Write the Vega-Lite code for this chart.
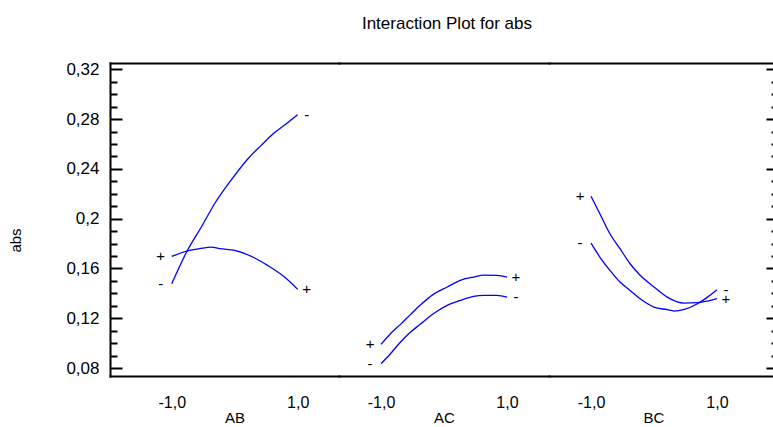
{
  "$schema": "https://vega.github.io/schema/vega-lite/v6.json",
  "padding": {"left": 8, "top": 15, "right": 0, "bottom": 0},
  "title": {"text": "Interaction Plot for abs", "fontSize": 17, "fontWeight": "normal", "font": "Liberation Sans", "color": "#000", "anchor": "middle", "offset": 27, "dx": 55},
  "datasets": {
    "lines": [
      {"group": "AB", "sign": "-", "level": -1, "abs": 0.1477},
      {"group": "AB", "sign": "-", "level": -0.75, "abs": 0.1746},
      {"group": "AB", "sign": "-", "level": -0.53, "abs": 0.1933},
      {"group": "AB", "sign": "-", "level": -0.32, "abs": 0.212},
      {"group": "AB", "sign": "-", "level": -0.06, "abs": 0.2308},
      {"group": "AB", "sign": "-", "level": 0.21, "abs": 0.2482},
      {"group": "AB", "sign": "-", "level": 0.42, "abs": 0.2589},
      {"group": "AB", "sign": "-", "level": 0.61, "abs": 0.2683},
      {"group": "AB", "sign": "-", "level": 0.82, "abs": 0.2763},
      {"group": "AB", "sign": "-", "level": 1, "abs": 0.2835},
      {"group": "AB", "sign": "+", "level": -1, "abs": 0.1697},
      {"group": "AB", "sign": "+", "level": -0.72, "abs": 0.1746},
      {"group": "AB", "sign": "+", "level": -0.56, "abs": 0.1759},
      {"group": "AB", "sign": "+", "level": -0.37, "abs": 0.1772},
      {"group": "AB", "sign": "+", "level": -0.24, "abs": 0.1759},
      {"group": "AB", "sign": "+", "level": 0.0, "abs": 0.1746},
      {"group": "AB", "sign": "+", "level": 0.31, "abs": 0.1686},
      {"group": "AB", "sign": "+", "level": 0.52, "abs": 0.1625},
      {"group": "AB", "sign": "+", "level": 0.79, "abs": 0.1531},
      {"group": "AB", "sign": "+", "level": 1, "abs": 0.1432},
      {"group": "AC", "sign": "+", "level": -1, "abs": 0.099},
      {"group": "AC", "sign": "+", "level": -0.85, "abs": 0.1076},
      {"group": "AC", "sign": "+", "level": -0.69, "abs": 0.1151},
      {"group": "AC", "sign": "+", "level": -0.53, "abs": 0.1231},
      {"group": "AC", "sign": "+", "level": -0.38, "abs": 0.1304},
      {"group": "AC", "sign": "+", "level": -0.17, "abs": 0.1392},
      {"group": "AC", "sign": "+", "level": 0.05, "abs": 0.1451},
      {"group": "AC", "sign": "+", "level": 0.26, "abs": 0.1505},
      {"group": "AC", "sign": "+", "level": 0.47, "abs": 0.1531},
      {"group": "AC", "sign": "+", "level": 0.63, "abs": 0.1547},
      {"group": "AC", "sign": "+", "level": 0.84, "abs": 0.1545},
      {"group": "AC", "sign": "+", "level": 1, "abs": 0.1531},
      {"group": "AC", "sign": "-", "level": -1, "abs": 0.0835},
      {"group": "AC", "sign": "-", "level": -0.85, "abs": 0.0915},
      {"group": "AC", "sign": "-", "level": -0.69, "abs": 0.1009},
      {"group": "AC", "sign": "-", "level": -0.53, "abs": 0.1089},
      {"group": "AC", "sign": "-", "level": -0.38, "abs": 0.1151},
      {"group": "AC", "sign": "-", "level": -0.17, "abs": 0.1236},
      {"group": "AC", "sign": "-", "level": 0.05, "abs": 0.1304},
      {"group": "AC", "sign": "-", "level": 0.26, "abs": 0.1344},
      {"group": "AC", "sign": "-", "level": 0.47, "abs": 0.1376},
      {"group": "AC", "sign": "-", "level": 0.63, "abs": 0.1384},
      {"group": "AC", "sign": "-", "level": 0.84, "abs": 0.1384},
      {"group": "AC", "sign": "-", "level": 1, "abs": 0.137},
      {"group": "BC", "sign": "+", "level": -1, "abs": 0.218},
      {"group": "BC", "sign": "+", "level": -0.86, "abs": 0.204},
      {"group": "BC", "sign": "+", "level": -0.7, "abs": 0.1879},
      {"group": "BC", "sign": "+", "level": -0.54, "abs": 0.1759},
      {"group": "BC", "sign": "+", "level": -0.38, "abs": 0.1638},
      {"group": "BC", "sign": "+", "level": -0.22, "abs": 0.1545},
      {"group": "BC", "sign": "+", "level": 0.0, "abs": 0.1451},
      {"group": "BC", "sign": "+", "level": 0.21, "abs": 0.137},
      {"group": "BC", "sign": "+", "level": 0.48, "abs": 0.1322},
      {"group": "BC", "sign": "+", "level": 0.69, "abs": 0.1325},
      {"group": "BC", "sign": "+", "level": 0.85, "abs": 0.1338},
      {"group": "BC", "sign": "+", "level": 1, "abs": 0.1357},
      {"group": "BC", "sign": "-", "level": -1, "abs": 0.1804},
      {"group": "BC", "sign": "-", "level": -0.86, "abs": 0.1692},
      {"group": "BC", "sign": "-", "level": -0.7, "abs": 0.1585},
      {"group": "BC", "sign": "-", "level": -0.54, "abs": 0.1491},
      {"group": "BC", "sign": "-", "level": -0.38, "abs": 0.1424},
      {"group": "BC", "sign": "-", "level": -0.22, "abs": 0.1357},
      {"group": "BC", "sign": "-", "level": 0.0, "abs": 0.129},
      {"group": "BC", "sign": "-", "level": 0.21, "abs": 0.1269},
      {"group": "BC", "sign": "-", "level": 0.32, "abs": 0.1258},
      {"group": "BC", "sign": "-", "level": 0.48, "abs": 0.1271},
      {"group": "BC", "sign": "-", "level": 0.69, "abs": 0.1317},
      {"group": "BC", "sign": "-", "level": 0.85, "abs": 0.137},
      {"group": "BC", "sign": "-", "level": 1, "abs": 0.1429}
    ]
  },
  "spacing": 0,
  "bounds": "flush",
  "hconcat": [
    {
      "width": 229, "height": 313,
      "data": {"name": "lines"},
      "transform": [{"filter": "datum.group === 'AB'"}],
      "resolve": {"axis": {"x": "independent", "y": "independent"}},
      "layer": [
        {
          "mark": {"type": "line", "color": "#0000ff", "strokeWidth": 1.3, "interpolate": "monotone"},
          "encoding": {
            "x": {"field": "level", "type": "quantitative", "scale": {"domain": [-1.98, 1.655], "nice": false, "zero": false},
              "axis": {"orient": "bottom", "values": [-1, 1], "ticks": false, "tickSize": 0, "domain": true, "domainWidth": 2, "domainCap": "square", "labelFontSize": 16, "labelPadding": 18, "labelExpr": "replace(replace(format(datum.value, '.1f'), '.', ','), '\u2212', '-')", "title": "AB", "titleFontSize": 15, "titlePadding": 0, "titleX": 124.5}},
            "y": {"field": "abs", "type": "quantitative", "scale": {"domain": [0.0736, 0.3251], "nice": false, "zero": false},
              "axis": {"orient": "left", "values": [0.08, 0.12, 0.16, 0.2, 0.24, 0.28, 0.32], "tickSize": -12, "tickWidth": 2, "domain": true, "domainWidth": 2, "domainCap": "square", "labelFontSize": 17, "labelPadding": 23, "labelExpr": "replace(format(datum.value, '.2~f'), '.', ',')", "title": "abs", "titleFontSize": 15, "titlePadding": 42, "titleY": 177}},
            "detail": {"field": "sign"}
          }
        },
        {
          "transform": [{"filter": "datum.level === -1"}],
          "mark": {"type": "text", "dx": -11, "fontSize": 15, "color": "#000", "align": "center", "baseline": "middle"},
          "encoding": {
            "x": {"field": "level", "type": "quantitative", "scale": {"domain": [-1.98, 1.655], "nice": false, "zero": false},
              "axis": {"orient": "top", "values": [], "ticks": false, "labels": false, "domain": true, "domainWidth": 2, "domainCap": "square", "title": null}},
            "y": {"field": "abs", "type": "quantitative", "scale": {"domain": [0.0736, 0.3251], "nice": false, "zero": false},
              "axis": {"orient": "left", "values": [0.09, 0.1, 0.11, 0.13, 0.14, 0.15, 0.17, 0.18, 0.19, 0.21, 0.22, 0.23, 0.25, 0.26, 0.27, 0.29, 0.3, 0.31], "tickSize": -7, "tickWidth": 2, "labels": false, "domain": false, "title": null}},
            "text": {"field": "sign"}
          }
        },
        {
          "transform": [{"filter": "datum.level === 1"}],
          "mark": {"type": "text", "dx": 9, "fontSize": 15, "color": "#000", "align": "center", "baseline": "middle"},
          "encoding": {
            "x": {"field": "level", "type": "quantitative", "scale": {"domain": [-1.98, 1.655], "nice": false, "zero": false}, "axis": null},
            "y": {"field": "abs", "type": "quantitative", "scale": {"domain": [0.0736, 0.3251], "nice": false, "zero": false}, "axis": null},
            "text": {"field": "sign"}
          }
        }
      ]
    },
    {
      "width": 210, "height": 313,
      "data": {"name": "lines"},
      "transform": [{"filter": "datum.group === 'AC'"}],
      "resolve": {"axis": {"x": "independent", "y": "independent"}},
      "layer": [
        {
          "mark": {"type": "line", "color": "#0000ff", "strokeWidth": 1.3, "interpolate": "monotone"},
          "encoding": {
            "x": {"field": "level", "type": "quantitative", "scale": {"domain": [-1.667, 1.667], "nice": false, "zero": false},
              "axis": {"orient": "bottom", "values": [-1, 1], "ticks": false, "tickSize": 0, "domain": true, "domainWidth": 2, "domainCap": "square", "labelFontSize": 16, "labelPadding": 18, "labelExpr": "replace(replace(format(datum.value, '.1f'), '.', ','), '\u2212', '-')", "title": "AC", "titleFontSize": 15, "titlePadding": 0}},
            "y": {"field": "abs", "type": "quantitative", "scale": {"domain": [0.0736, 0.3251], "nice": false, "zero": false}, "axis": null},
            "detail": {"field": "sign"}
          }
        },
        {
          "transform": [{"filter": "datum.level === -1"}],
          "mark": {"type": "text", "dx": -11, "fontSize": 15, "color": "#000", "align": "center", "baseline": "middle"},
          "encoding": {
            "x": {"field": "level", "type": "quantitative", "scale": {"domain": [-1.667, 1.667], "nice": false, "zero": false},
              "axis": {"orient": "top", "values": [], "ticks": false, "labels": false, "domain": true, "domainWidth": 2, "domainCap": "square", "title": null}},
            "y": {"field": "abs", "type": "quantitative", "scale": {"domain": [0.0736, 0.3251], "nice": false, "zero": false}, "axis": null},
            "text": {"field": "sign"}
          }
        },
        {
          "transform": [{"filter": "datum.level === 1"}],
          "mark": {"type": "text", "dx": 9, "fontSize": 15, "color": "#000", "align": "center", "baseline": "middle"},
          "encoding": {
            "x": {"field": "level", "type": "quantitative", "scale": {"domain": [-1.667, 1.667], "nice": false, "zero": false}, "axis": null},
            "y": {"field": "abs", "type": "quantitative", "scale": {"domain": [0.0736, 0.3251], "nice": false, "zero": false}, "axis": null},
            "text": {"field": "sign"}
          }
        }
      ]
    },
    {
      "width": 225, "height": 313,
      "data": {"name": "lines"},
      "transform": [{"filter": "datum.group === 'BC'"}],
      "resolve": {"axis": {"x": "independent", "y": "independent"}},
      "layer": [
        {
          "mark": {"type": "line", "color": "#0000ff", "strokeWidth": 1.3, "interpolate": "monotone"},
          "encoding": {
            "x": {"field": "level", "type": "quantitative", "scale": {"domain": [-1.667, 1.905], "nice": false, "zero": false},
              "axis": {"orient": "bottom", "values": [-1, 1], "ticks": false, "tickSize": 0, "domain": true, "domainWidth": 2, "domainCap": "square", "labelFontSize": 16, "labelPadding": 18, "labelExpr": "replace(replace(format(datum.value, '.1f'), '.', ','), '\u2212', '-')", "title": "BC", "titleFontSize": 15, "titlePadding": 0, "titleX": 104.5}},
            "y": {"field": "abs", "type": "quantitative", "scale": {"domain": [0.0736, 0.3251], "nice": false, "zero": false},
              "axis": {"orient": "right", "values": [0.08, 0.12, 0.16, 0.2, 0.24, 0.28, 0.32], "tickSize": -8, "tickWidth": 2, "labels": false, "domain": true, "domainWidth": 2, "domainCap": "square", "title": null}},
            "detail": {"field": "sign"}
          }
        },
        {
          "transform": [{"filter": "datum.level === -1"}],
          "mark": {"type": "text", "dx": -11, "fontSize": 15, "color": "#000", "align": "center", "baseline": "middle"},
          "encoding": {
            "x": {"field": "level", "type": "quantitative", "scale": {"domain": [-1.667, 1.905], "nice": false, "zero": false},
              "axis": {"orient": "top", "values": [], "ticks": false, "labels": false, "domain": true, "domainWidth": 2, "domainCap": "square", "title": null}},
            "y": {"field": "abs", "type": "quantitative", "scale": {"domain": [0.0736, 0.3251], "nice": false, "zero": false},
              "axis": {"orient": "right", "values": [0.09, 0.1, 0.11, 0.13, 0.14, 0.15, 0.17, 0.18, 0.19, 0.21, 0.22, 0.23, 0.25, 0.26, 0.27, 0.29, 0.3, 0.31], "tickSize": -3, "tickWidth": 2, "labels": false, "domain": false, "title": null}},
            "text": {"field": "sign"}
          }
        },
        {
          "transform": [{"filter": "datum.level === 1"}],
          "mark": {"type": "text", "dx": 9, "fontSize": 15, "color": "#000", "align": "center", "baseline": "middle"},
          "encoding": {
            "x": {"field": "level", "type": "quantitative", "scale": {"domain": [-1.667, 1.905], "nice": false, "zero": false}, "axis": null},
            "y": {"field": "abs", "type": "quantitative", "scale": {"domain": [0.0736, 0.3251], "nice": false, "zero": false}, "axis": null},
            "text": {"field": "sign"}
          }
        }
      ]
    }
  ],
  "config": {
    "view": {"stroke": null},
    "font": "Liberation Sans",
    "axis": {"grid": false, "labelFont": "Liberation Sans", "titleFont": "Liberation Sans", "labelColor": "#000", "titleColor": "#000", "domainColor": "#000", "tickColor": "#000", "titleFontWeight": "normal"},
    "text": {"font": "Liberation Sans"}
  }
}
